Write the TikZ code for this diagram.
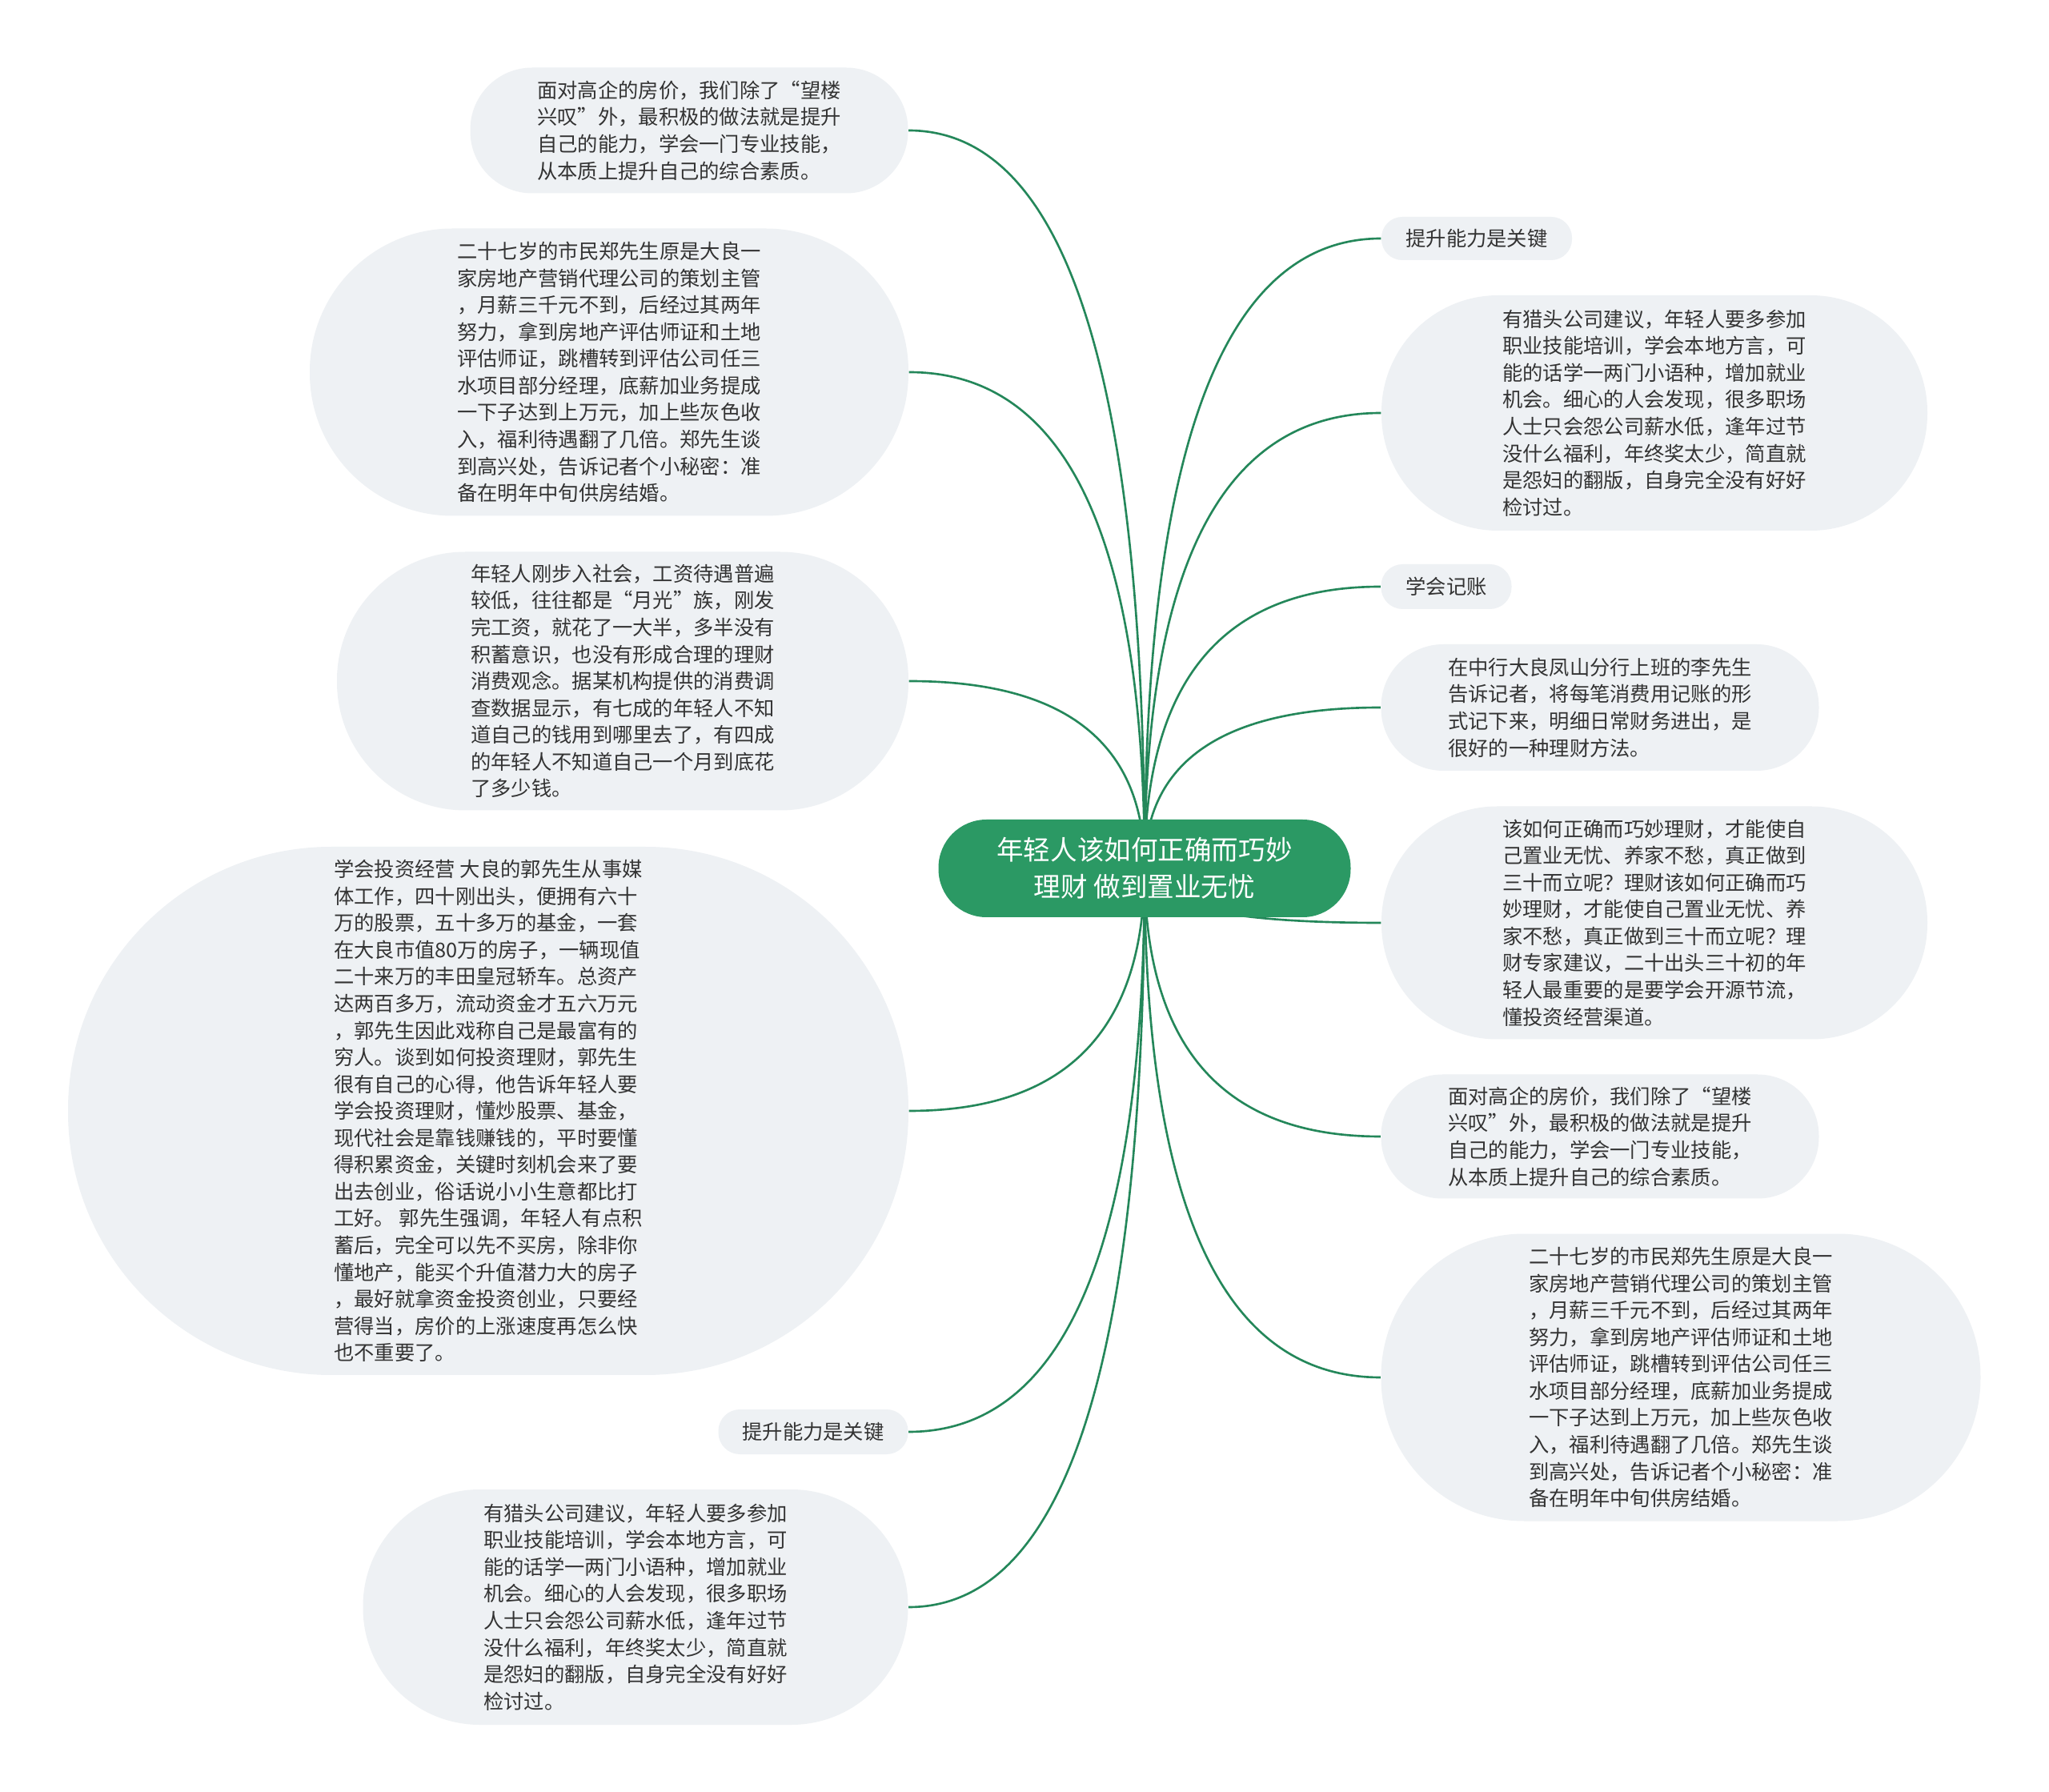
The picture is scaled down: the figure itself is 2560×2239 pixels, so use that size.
\documentclass[tikz,border=0pt]{standalone}
\usepackage{fontspec}
\newfontfamily\cjkfont{Noto Sans CJK SC}
\usetikzlibrary{calc}
\definecolor{mmgreen}{HTML}{2B9964}
\definecolor{mmline}{HTML}{24875A}
\definecolor{mmbubble}{HTML}{EEF1F4}
\definecolor{mmink}{HTML}{333333}
\pgfdeclarelayer{bg}
\pgfsetlayers{bg,main}
\tikzset{
  mm root/.style={fill=mmgreen, text=white, minimum width=51.5mm, minimum height=12.2mm,
    rounded corners=6mm, align=center, inner sep=0pt,
    font=\cjkfont\fontsize{9.55}{13}\selectfont},
  mm leaf/.style 2 args={fill=mmbubble, text=mmink, minimum width=#1, minimum height=#2,
    rounded corners=#2/2-0.1mm, align=left, inner sep=0pt,
    font=\cjkfont\fontsize{7.2}{9.55}\selectfont},
  mm branch/.style={draw=mmline, line width=0.75pt}
}
\begin{document}
\begin{tikzpicture}[x=0.1mm, y=-0.1mm]
  \useasboundingbox (0,0) rectangle (2560,2239);
  % root
  \node[mm root] (root) at (1430,1085) {年轻人该如何正确而巧妙\\理财 做到置业无忧};
  % left side
  \node[mm leaf={54.7mm}{15.7mm}] (L1) at (861,163) {面对高企的房价，我们除了“望楼\\兴叹”外，最积极的做法就是提升\\自己的能力，学会一门专业技能，\\从本质上提升自己的综合素质。};
  \node[mm leaf={74.8mm}{35.9mm}] (L2) at (761,465) {二十七岁的市民郑先生原是大良一\\家房地产营销代理公司的策划主管\\，月薪三千元不到，后经过其两年\\努力，拿到房地产评估师证和土地\\评估师证，跳槽转到评估公司任三\\水项目部分经理，底薪加业务提成\\一下子达到上万元，加上些灰色收\\入，福利待遇翻了几倍。郑先生谈\\到高兴处，告诉记者个小秘密：准\\备在明年中旬供房结婚。};
  \node[mm leaf={71.4mm}{32.3mm}] (L3) at (778,851) {年轻人刚步入社会，工资待遇普遍\\较低，往往都是“月光”族，刚发\\完工资，就花了一大半，多半没有\\积蓄意识，也没有形成合理的理财\\消费观念。据某机构提供的消费调\\查数据显示，有七成的年轻人不知\\道自己的钱用到哪里去了，有四成\\的年轻人不知道自己一个月到底花\\了多少钱。};
  \node[mm leaf={105mm}{66mm}] (L4) at (610,1388) {学会投资经营 大良的郭先生从事媒\\体工作，四十刚出头，便拥有六十\\万的股票，五十多万的基金，一套\\在大良市值80万的房子，一辆现值\\二十来万的丰田皇冠轿车。总资产\\达两百多万，流动资金才五六万元\\，郭先生因此戏称自己是最富有的\\穷人。谈到如何投资理财，郭先生\\很有自己的心得，他告诉年轻人要\\学会投资理财，懂炒股票、基金，\\现代社会是靠钱赚钱的，平时要懂\\得积累资金，关键时刻机会来了要\\出去创业，俗话说小小生意都比打\\工好。 郭先生强调，年轻人有点积\\蓄后，完全可以先不买房，除非你\\懂地产，能买个升值潜力大的房子\\，最好就拿资金投资创业，只要经\\营得当，房价的上涨速度再怎么快\\也不重要了。};
  \node[mm leaf={23.7mm}{5.6mm}] (L5) at (1016,1789) {提升能力是关键};
  \node[mm leaf={68.1mm}{29.4mm}] (L6) at (794,2008) {有猎头公司建议，年轻人要多参加\\职业技能培训，学会本地方言，可\\能的话学一两门小语种，增加就业\\机会。细心的人会发现，很多职场\\人士只会怨公司薪水低，逢年过节\\没什么福利，年终奖太少，简直就\\是怨妇的翻版，自身完全没有好好\\检讨过。};
  % right side
  \node[mm leaf={23.8mm}{5.4mm}] (R1) at (1845,298) {提升能力是关键};
  \node[mm leaf={68.2mm}{29.4mm}] (R2) at (2067,516) {有猎头公司建议，年轻人要多参加\\职业技能培训，学会本地方言，可\\能的话学一两门小语种，增加就业\\机会。细心的人会发现，很多职场\\人士只会怨公司薪水低，逢年过节\\没什么福利，年终奖太少，简直就\\是怨妇的翻版，自身完全没有好好\\检讨过。};
  \node[mm leaf={16.3mm}{5.6mm}] (R3) at (1807,733) {学会记账};
  \node[mm leaf={54.7mm}{15.8mm}] (R4) at (1999,884) {在中行大良凤山分行上班的李先生\\告诉记者，将每笔消费用记账的形\\式记下来，明细日常财务进出，是\\很好的一种理财方法。};
  \node[mm leaf={68.2mm}{29.1mm}] (R5) at (2067,1153) {该如何正确而巧妙理财，才能使自\\己置业无忧、养家不愁，真正做到\\三十而立呢？理财该如何正确而巧\\妙理财，才能使自己置业无忧、养\\家不愁，真正做到三十而立呢？理\\财专家建议，二十出头三十初的年\\轻人最重要的是要学会开源节流，\\懂投资经营渠道。};
  \node[mm leaf={54.7mm}{15.5mm}] (R6) at (1999,1420) {面对高企的房价，我们除了“望楼\\兴叹”外，最积极的做法就是提升\\自己的能力，学会一门专业技能，\\从本质上提升自己的综合素质。};
  \node[mm leaf={74.9mm}{35.9mm}] (R7) at (2100,1721) {二十七岁的市民郑先生原是大良一\\家房地产营销代理公司的策划主管\\，月薪三千元不到，后经过其两年\\努力，拿到房地产评估师证和土地\\评估师证，跳槽转到评估公司任三\\水项目部分经理，底薪加业务提成\\一下子达到上万元，加上些灰色收\\入，福利待遇翻了几倍。郑先生谈\\到高兴处，告诉记者个小秘密：准\\备在明年中旬供房结婚。};
  % branches, under the nodes
  \begin{pgfonlayer}{bg}
    \fill[white] (0,0) rectangle (2560,2239);
    \foreach \n/\a in {L1/east, L2/east, L3/east, L4/east, L5/east, L6/east,
        R1/west, R2/west, R3/west, R4/west, R5/west, R6/west, R7/west}
      \draw[mm branch] (root.center) .. controls ($(root.center)!0.667!(root.center |- \n.\a)$)
        and ($(\n.\a)!0.667!(root.center |- \n.\a)$) .. (\n.\a);
  \end{pgfonlayer}
\end{tikzpicture}
\end{document}
